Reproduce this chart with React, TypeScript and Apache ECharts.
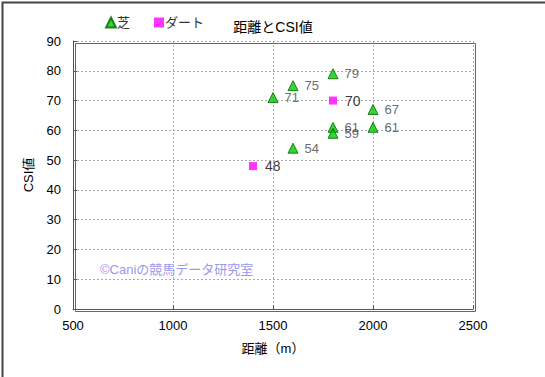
import React, { useEffect, useRef } from "react";
import * as echarts from "echarts";

const turfDistance = [1500, 1600, 1800, 1800, 1800, 1600, 2000, 2000];
const turfCSI = [71, 75, 79, 61, 59, 54, 67, 61];
const dirtDistance = [1400, 1800];
const dirtCSI = [48, 70];
const seriesNames = ["芝", "ダート"];
const titleText = "距離とCSI値";
const xName = "距離（m）";
const yName = "CSI値";
const watermark = "©Caniの競馬データ研究室";

export default function App() {
  const ref = useRef<HTMLDivElement>(null);
  useEffect(() => {
    const chart = echarts.init(ref.current!, null, { renderer: "svg" });
    const font = "'Liberation Sans', 'Noto Sans CJK JP', sans-serif";
    chart.setOption({
      animation: false,
      backgroundColor: "#ffffff",
      textStyle: { fontFamily: font },
      title: {
        text: titleText,
        left: 268,
        top: 15,
        textAlign: "center",
        textStyle: { fontSize: 14, fontWeight: "normal", color: "#000", fontFamily: font },
      },
      legend: {
        left: 100,
        top: 11,
        itemGap: 24,
        itemWidth: 10,
        itemHeight: 10,
        textStyle: { fontSize: 13, color: "#333", fontFamily: font, padding: [0, 0, 0, -4] },
        data: [
          { name: seriesNames[0], icon: "triangle" },
          { name: seriesNames[1], icon: "rect" },
        ],
      },
      grid: { left: 73, right: 72, top: 41, bottom: 68 },
      xAxis: {
        type: "value",
        min: 500,
        max: 2500,
        interval: 500,
        name: xName,
        nameLocation: "middle",
        nameGap: 33,
        nameTextStyle: { fontSize: 13, color: "#000", fontFamily: font },
        axisLine: { show: true, lineStyle: { color: "#555", width: 1 } },
        axisTick: { show: true, inside: true, length: 4, lineStyle: { color: "#555" } },
        axisLabel: { fontSize: 13, color: "#000", margin: 10, formatter: (v: number) => String(v) },
        splitLine: { show: true, lineStyle: { color: "#aaa", type: [2, 2] } },
      },
      yAxis: {
        type: "value",
        min: 0,
        max: 90,
        interval: 10,
        name: yName,
        nameLocation: "middle",
        nameGap: 38,
        nameRotate: 90,
        nameTextStyle: { fontSize: 13, color: "#000", fontFamily: font },
        axisLine: { show: true, lineStyle: { color: "#555", width: 1 } },
        axisTick: { show: true, inside: true, length: 4, lineStyle: { color: "#555" } },
        axisLabel: { fontSize: 13, color: "#000", margin: 12 },
        splitLine: { show: true, lineStyle: { color: "#aaa", type: [2, 2] } },
      },
      graphic: [
        {
          type: "rect",
          left: 0,
          top: 0,
          shape: { width: 544, height: 376 },
          style: { fill: "none", stroke: "#444", lineWidth: 2 },
          silent: true,
        },
        {
          type: "rect",
          left: 73,
          top: 41,
          shape: { width: 400, height: 268 },
          style: { fill: "none", stroke: "#666", lineWidth: 1 },
          silent: true,
          z: 10,
        },
        {
          type: "text",
          left: 100,
          top: 263,
          style: { text: watermark, fill: "#9999ee", fontSize: 13, fontFamily: font },
          silent: true,
        },
      ],
      series: [
        {
          name: seriesNames[0],
          type: "scatter",
          symbol: "triangle",
          symbolSize: 10,
          itemStyle: { color: "#00cc00", borderColor: "#006600", borderWidth: 1 },
          data: turfDistance.map((d, i) => [d, turfCSI[i]]),
          label: {
            show: true,
            position: "right",
            distance: 6,
            formatter: (p: any) => String(p.value[1]),
            fontSize: 13,
            color: "#444",
            fontFamily: font,
          },
        },
        {
          name: seriesNames[1],
          type: "scatter",
          symbol: "rect",
          symbolSize: 8,
          itemStyle: { color: "#ff00ff" },
          data: dirtDistance.map((d, i) => [d, dirtCSI[i]]),
          label: {
            show: true,
            position: "right",
            distance: 8,
            formatter: (p: any) => String(p.value[1]),
            fontSize: 14,
            color: "#000",
            fontFamily: font,
          },
        },
      ],
    });
    return () => chart.dispose();
  }, []);
  return (
    <div
      ref={ref}
      style={{ position: "absolute", left: 0, top: 0, width: 545, height: 377 }}
    />
  );
}
